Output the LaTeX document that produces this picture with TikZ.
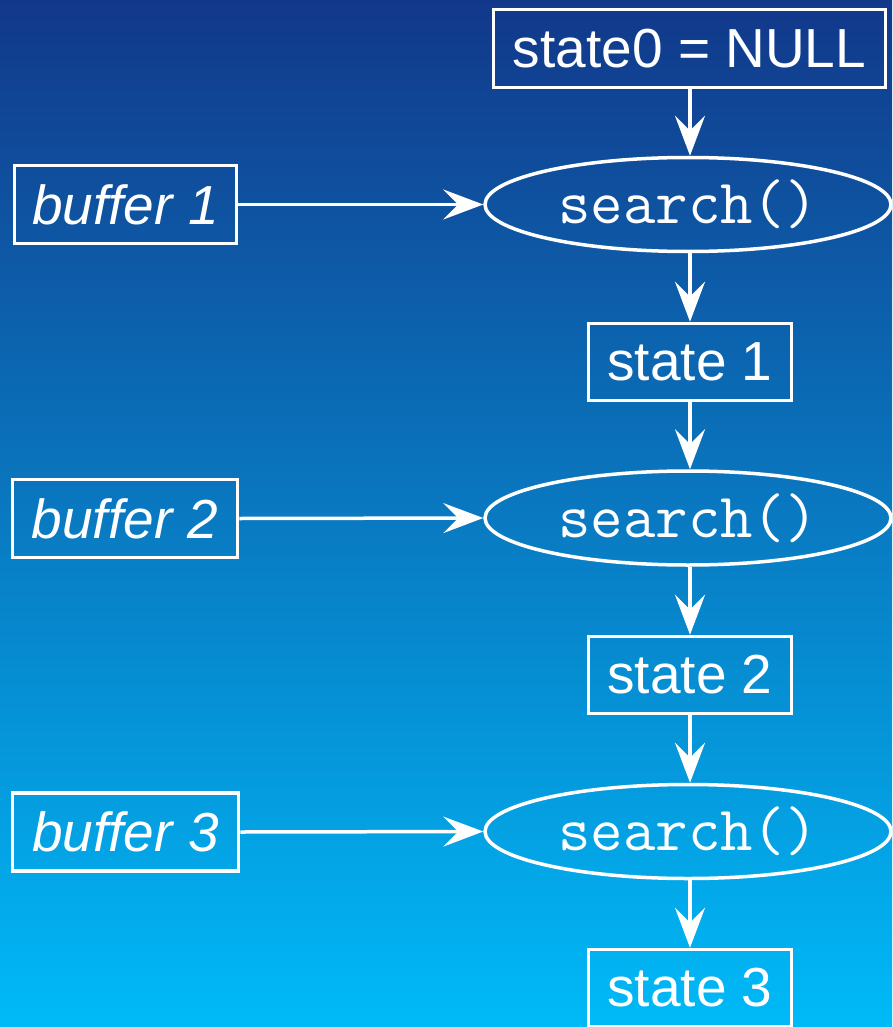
\documentclass[tikz,border=0pt]{standalone}
\usepackage{fontspec}
\setmainfont{Liberation Sans}
\usetikzlibrary{shapes.geometric,arrows.meta}
\definecolor{bgtop}{RGB}{18,56,138}
\definecolor{bgbot}{RGB}{0,186,248}
\tikzset{
  x=1pt,y=-1pt,
  box/.style={draw=white,line width=3.5pt,text=white,inner sep=0pt,font=\fontsize{55}{60}\selectfont},
  oval/.style={draw=white,ellipse,line width=3.5pt,text=white,inner sep=0pt,minimum width=406pt,minimum height=94pt,font=\ttfamily\fontsize{63}{64}\selectfont},
  conn/.style={draw=white,line width=3.5pt,-{Stealth[length=40pt,width=30pt,inset=15pt]}},
}
\begin{document}
\begin{tikzpicture}
\useasboundingbox (0,0) rectangle (892,1027);
\shade[top color=bgtop,bottom color=bgbot] (0,0) rectangle (892,1027);
\clip (0,0) rectangle (892,1027);
\node[box,minimum width=392pt,minimum height=78pt] (s0) at (689.5,48.5) {state0 = NULL};
\node[oval] (e1) at (688,204.5) {search()};
\node[box,minimum width=203pt,minimum height=77pt] (s1) at (690,362) {state 1};
\node[oval] (e2) at (688,518) {search()};
\node[box,minimum width=203pt,minimum height=77pt] (s2) at (690,675) {state 2};
\node[oval] (e3) at (688,831.5) {search()};
\node[box,minimum width=203pt,minimum height=77pt] (s3) at (690,988) {state 3};
\node[box,minimum width=222pt,minimum height=78pt,font=\itshape\fontsize{55}{60}\selectfont] (b1) at (125.5,204.5) {buffer 1};
\node[box,minimum width=225pt,minimum height=78pt,font=\itshape\fontsize{55}{60}\selectfont] (b2) at (125,518.5) {buffer 2};
\node[box,minimum width=226pt,minimum height=78pt,font=\itshape\fontsize{55}{60}\selectfont] (b3) at (125.5,832) {buffer 3};
\draw[conn] (s0.south -| 690,0) -- (e1.north -| 690,0);
\draw[conn] (e1.south -| 690,0) -- (s1.north);
\draw[conn] (s1.south) -- (e2.north -| 690,0);
\draw[conn] (e2.south -| 690,0) -- (s2.north);
\draw[conn] (s2.south) -- (e3.north -| 690,0);
\draw[conn] (e3.south -| 690,0) -- (s3.north);
\draw[conn] (b1.east) -- (e1.west);
\draw[conn] (b2.east) -- (e2.west);
\draw[conn] (b3.east) -- (e3.west);
\end{tikzpicture}
\end{document}
